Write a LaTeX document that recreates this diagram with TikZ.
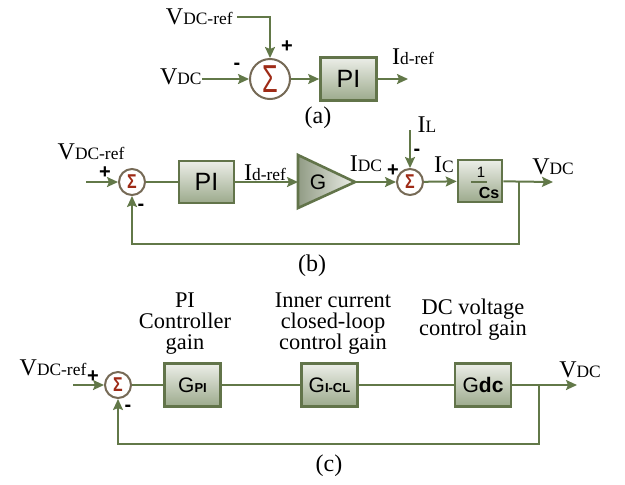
\documentclass[tikz,border=0pt]{standalone}
\usepackage{fontspec}
\setmainfont{Liberation Serif}
\setsansfont{Liberation Sans}
\usetikzlibrary{arrows.meta,positioning}
\definecolor{loopgreen}{RGB}{98,120,72}
\definecolor{blockedge}{RGB}{98,116,74}
\definecolor{blocktop}{RGB}{236,238,232}
\definecolor{blockbottom}{RGB}{156,170,140}
\definecolor{sumedge}{RGB}{118,106,86}
\definecolor{sumsigma}{RGB}{158,42,22}
\tikzset{
  loop line/.style={draw=loopgreen, line width=1pt},
  loop arrow/.style={loop line, -{Stealth[length=5.5pt,width=5pt,inset=1pt]}},
  loop block/.style={
    draw=blockedge, line width=1.3pt,
    top color=blocktop, bottom color=blockbottom,
    inner sep=0pt, minimum width=28pt, minimum height=21.5pt,
    font=\sffamily\fontsize{10.5}{12}\selectfont
  },
  loop sum/.style={
    circle, draw=sumedge, fill=white, line width=1pt,
    inner sep=0pt, minimum size=13pt, text=sumsigma,
    font=\sffamily\bfseries\fontsize{10}{10}\selectfont
  },
  loop signal/.style={inner sep=0pt, font=\rmfamily\fontsize{12}{13}\selectfont},
  loop sign/.style={inner sep=0pt, font=\sffamily\bfseries\fontsize{10}{12}\selectfont},
  loop caption/.style={inner sep=0pt, font=\rmfamily\fontsize{12}{13}\selectfont},
  loop title/.style={inner sep=0pt, align=center, font=\rmfamily\fontsize{11.2}{10.5}\selectfont}
}
\newcommand{\sigSub}[2]{#1{\fontsize{8.7}{9}\selectfont #2}}
\newcommand{\blockSub}[2]{#1{\fontsize{6.5}{8}\selectfont\bfseries #2}}
\newcommand{\sumSigma}[1][0.8]{\scalebox{#1}[1]{Σ}}
\newcommand{\loopSign}[4]{%
  \node[loop sign] (#1) at (#2,#3) {#4};%
}

\begin{document}
\begin{tikzpicture}[x=0.5pt,y=-0.5pt]
  \useasboundingbox (0,0) rectangle (625,484);

  % (a)
  \node[loop sum,minimum size=20pt,font=\sffamily\fontsize{19.5}{20}\selectfont] (sumA) at (270,79) {\sumSigma[0.65]};
  \node[loop block,font=\sffamily\fontsize{12.5}{14}\selectfont] (piA) at (348.5,79) {PI};
  \node[loop signal,anchor=east] (vdcrefA) at (233,17) {\sigSub{V}{DC-ref}};
  \node[loop signal,anchor=east] (vdcA) at (202,77) {\sigSub{V}{DC}};
  \node[loop signal] (idrefA) at (413,57) {\sigSub{I}{d-ref}};
  \coordinate (outA) at (408,79);
  \loopSign{plusA}{287}{47}{+}
  \loopSign{minusA}{237}{66}{-}
  \draw[loop arrow] (vdcrefA.east) ++(4,0) -| (sumA.north);
  \draw[loop arrow] (vdcA.east |- sumA.west) -- (sumA.west);
  \draw[loop arrow] (sumA) -- (piA);
  \draw[loop arrow] (piA) -- (outA);
  \node[loop caption] (capA) at (318,118) {(a)};

  % (b)
  \node[loop sum] (sumB) at (132,182) {\sumSigma};
  \node[loop block,font=\sffamily\fontsize{12.5}{14}\selectfont,minimum width=27.5pt,minimum height=21pt] (piB) at (206.5,182) {PI};
  \coordinate (gBin) at (298,182);
  \coordinate (gBtip) at (355,182);
  \path[draw=blockedge,line width=1.3pt,left color=blockbottom!85!black!90,right color=blocktop]
    (298,155) -- (gBtip) -- (298,208) -- cycle;
  \node[inner sep=0pt,font=\sffamily\fontsize{10.5}{12}\selectfont] (gB) at (318,182) {G};
  \node[loop sum] (sumC) at (410,182) {\sumSigma};
  \node[loop block,minimum width=22pt,minimum height=21pt] (csB) at (480,181) {};
  \node[inner sep=0pt,font=\sffamily\fontsize{7.5}{9}\selectfont] (oneB) at (481,172) {1};
  \node[inner sep=0pt,font=\sffamily\bfseries\fontsize{8}{9}\selectfont] (csTxtB) at (489,193) {Cs};
  \coordinate (barLB) at (471,182);
  \coordinate (barRB) at (487,182);
  \draw[draw=blockedge,line width=0.8pt] (barLB) -- (barRB);
  \coordinate (inB) at (86,182);
  \coordinate (ilTopB) at (410,130);
  \coordinate (brB) at (519,182);
  \coordinate (outB) at (553,182);
  \node[loop signal] (vdcrefB) at (91,152) {\sigSub{V}{DC-ref}};
  \node[loop signal] (idrefB) at (265,173) {\sigSub{I}{d-ref}};
  \node[loop signal] (idcB) at (366,164) {\sigSub{I}{DC}};
  \node[loop signal] (ilB) at (427,125) {\sigSub{I}{L}};
  \node[loop signal] (icB) at (444,165) {\sigSub{I}{C}};
  \node[loop signal] (vdcB) at (553,167) {\sigSub{V}{DC}};
  \loopSign{plusB}{105}{173}{+}
  \loopSign{minusB}{141}{207}{-}
  \loopSign{plusC}{393}{171}{+}
  \loopSign{minusC}{417}{152}{-}
  \draw[loop arrow] (inB) -- (sumB.west);
  \draw[loop line] (sumB) -- (piB);
  \draw[loop arrow] (piB) -- (gBin);
  \draw[loop arrow] (gBtip) -- (sumC.west);
  \draw[loop arrow] (ilTopB) -- (sumC.north);
  \draw[loop arrow] (sumC) -- (csB);
  \draw[loop arrow] (csB) -- (outB);
  \draw[loop arrow] (brB) -- ++(0,62) -| (sumB.south);
  \node[loop caption] (capB) at (312,266) {(b)};

  % (c)
  \node[loop sum] (sumD) at (118,385) {\sumSigma};
  \node[loop block] (gpiC) at (192.5,385) {\blockSub{G}{PI}};
  \node[loop block] (giclC) at (329.5,385) {\blockSub{G}{I-CL}};
  \node[loop block] (gdcC) at (483,385) {G{\bfseries dc}};
  \coordinate (inC) at (73,385);
  \coordinate (brC) at (539,385);
  \coordinate (outC) at (577,385);
  \node[loop signal] (vdcrefC) at (53,368) {\sigSub{V}{DC-ref}};
  \node[loop signal] (vdcC) at (580,370) {\sigSub{V}{DC}};
  \loopSign{plusD}{93}{377}{+}
  \loopSign{minusD}{128}{408}{-}
  \node[loop title] (titlePI) at (185,324) {PI\\Controller\\gain};
  \node[loop title] (titleICL) at (333,324) {Inner current\\closed-loop\\control gain};
  \node[loop title] (titleDC) at (473,320) {DC voltage\\control gain};
  \draw[loop arrow] (inC) -- (sumD.west);
  \draw[loop line] (sumD) -- (gpiC);
  \draw[loop line] (gpiC) -- (giclC);
  \draw[loop line] (giclC) -- (gdcC);
  \draw[loop arrow] (gdcC) -- (outC);
  \draw[loop arrow] (brC) -- ++(0,59) -| (sumD.south);
  \node[loop caption] (capC) at (329,466) {(c)};
\end{tikzpicture}
\end{document}
